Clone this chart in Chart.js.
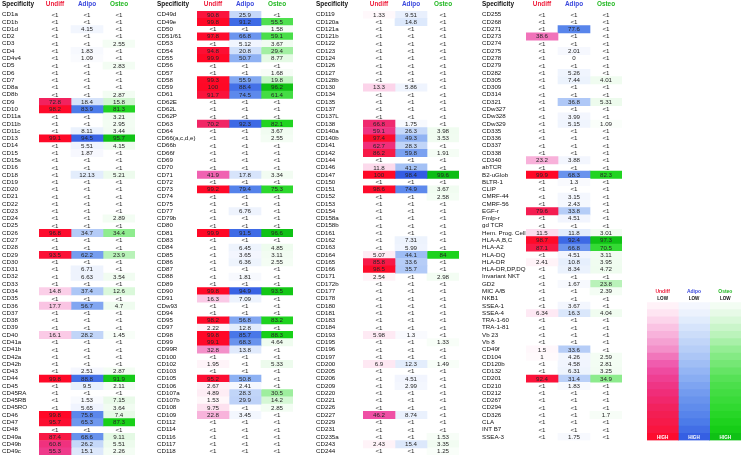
<!DOCTYPE html>
<html>
<head>
<meta charset="utf-8">
<script src="https://cdn.jsdelivr.net/npm/chart.js@4.4.0/dist/chart.umd.min.js"></script>
<style>
  body { margin: 0; background: #fff; width: 743px; height: 457px; overflow: hidden; position: relative; }
  canvas { position: absolute; top: 0; }
</style>
</head>
<body>
<canvas id="g1" width="133" height="457" style="left:2px"></canvas>
<canvas id="g2" width="136" height="457" style="left:157px"></canvas>
<canvas id="g3" width="143" height="457" style="left:316px"></canvas>
<canvas id="g4" width="140" height="457" style="left:482px"></canvas>
<canvas id="key" width="94" height="457" style="left:647px"></canvas>
<script>
const _ = null; // shown as "<1"

const seriesNames = ['Undiff', 'Adipo', 'Osteo'];

// ---- group 1 ----
const g1Names = ['CD1a','CD1b','CD1d','CD2','CD3','CD4','CD4v4','CD5','CD6','CD7','CD8a','CD8b','CD9','CD10','CD11a','CD11b','CD11c','CD13','CD14','CD15','CD15s','CD16','CD18','CD19','CD20','CD21','CD22','CD23','CD24','CD25','CD26','CD27','CD28','CD29','CD30','CD31','CD32','CD33','CD34','CD35','CD36','CD37','CD38','CD39','CD40','CD41a','CD41b','CD42a','CD42b','CD43','CD44','CD45','CD45RA','CD45RB','CD45RO','CD46','CD47','CD48','CD49a','CD49b','CD49c'];
const g1Undiff = [_,_,_,_,_,_,_,_,_,_,_,_, 72.8,98.2,_,_,_,99.1,_,_,_,_,_,_, _,_,_,_,_,_,96.8,_,_,93.5,_,_, _,_,14.8,_,17.7,_,_,_,16.1,_,_,_, _,_,99.8,_,_,_,_,99.8,95.7,_,87.4,60.8, 55.3];
const g1Adipo  = [_,_,4.15,_,_,1.83,1.09,_,_,_,_,_, 18.4,83.9,_,_,8.11,94.5,5.51,1.87,_,_,12.13,_, _,_,_,_,_,_,34.7,_,_,62.2,_,6.71, 6.63,_,37.4,_,56.7,_,_,_,28.2,_,_,_, _,2.51,88.8,9.5,_,1.53,5.65,75.8,65.3,_,68.6,26.2, 15.1];
const g1Osteo  = [_,_,_,_,2.55,_,_,2.83,_,_,_,2.87, 15.8,81.3,3.21,2.95,3.44,95.7,4.15,_,_,_,5.21,_, _,_,_,_,2.89,_,34.4,_,_,23.9,_,_, 3.54,_,12.6,_,4.7,_,_,_,1.45,_,_,_, _,2.87,91.9,2.11,_,7.15,3.64,7.4,87.3,_,9.11,5.51, 2.26];

// ---- group 2 ----
const g2Names = ['CD49d','CD49e','CD50','CD51/61','CD53','CD54','CD55','CD56','CD57','CD58','CD59','CD61','CD62E','CD62L','CD62P','CD63','CD64','CD66(a,c,d,e)','CD66b','CD66f','CD69','CD70','CD71','CD72','CD73','CD74','CD75','CD77','CD79b','CD80','CD81','CD83','CD84','CD85','CD86','CD87','CD88','CD89','CD90','CD91','CDw93','CD94','CD95','CD97','CD98','CD99','CD99R','CD100','CD102','CD103','CD105','CD106','CD107a','CD107b','CD108','CD109','CD112','CD114','CD116','CD117','CD118'];
const g2Undiff = [90.8,99.8,_,97.8,_,94.8,99.9,_,_,99.3,100,91.7, _,_,_,70.2,_,_,_,_,_,_,41.9,_, 99.2,_,_,_,_,_,99.9,_,_,_,_,_, _,_,99.8,16.3,_,_,98.2,2.22,99.8,99.1,32.8,_, 1.95,_,95.2,2.67,4.89,1.53,9.75,22.8,_,_,_,_, _];
const g2Adipo  = [25.9,91.2,_,66.8,5.12,20.8,50.7,_,_,55.9,88.4,74.5, _,_,_,92.3,_,_,_,_,_,_,17.8,_, 79.4,_,_,6.76,_,_,91.5,_,6.45,3.65,6.36,_, 1.81,_,94.9,7.09,_,_,56.8,12.8,85.7,68.3,13.8,_, _,_,50.8,2.41,28.3,29.9,_,3.45,_,_,_,_, _];
const g2Osteo  = [_,55.5,1.58,59.1,3.67,29.4,8.77,_,1.68,19.8,96.2,61.4, _,_,_,82.1,3.67,2.55,_,_,_,_,3.34,_, 75.3,_,_,_,_,_,96.6,_,4.85,3.11,2.55,_, _,_,93.5,_,_,_,83.2,_,88.3,4.64,_,_, 5.33,_,_,_,30.5,14.2,2.85,_,_,_,_,_, _];

// ---- group 3 ----
const g3Names = ['CD119','CD120a','CD121a','CD121b','CD122','CD123','CD124','CD126','CD127','CD128b','CD130','CD134','CD135','CD137','CD137L','CD138','CD140a','CD140b','CD141','CD142','CD144','CD146','CD147','CD150','CD151','CD152','CD153','CD154','CD158a','CD158b','CD161','CD162','CD163','CD164','CD165','CD166','CD171','CD172b','CD177','CD178','CD180','CD181','CD183','CD184','CD193','CD195','CD196','CD197','CD200','CD205','CD206','CD209','CD220','CD221','CD226','CD227','CD229','CD231','CD235a','CD243','CD244'];
const g3Undiff = [1.33,_,_,_,_,_,_,_,_,_,13.3,_, _,_,_,66.8,59.1,97.4,62.7,86.2,_,11.8,100,_, 98.6,_,_,_,_,_,_,_,_,5.07,85.8,98.5, 2.54,_,_,_,_,_,_,_,5.98,_,_,_, 6.9,_,_,_,_,_,_,46.2,_,_,_,2.43, _];
const g3Adipo  = [9.51,14.8,_,_,_,_,_,_,_,_,5.86,_, _,_,_,1.75,26.3,49.3,28.3,59.8,_,41.2,98.4,_, 74.9,_,_,_,_,_,_,7.31,5.99,44.1,33.6,35.7, _,_,_,_,_,_,_,_,1.3,_,_,_, 12.3,_,4.51,2.99,_,_,_,8.74,_,_,_,15.4, _];
const g3Osteo  = [_,_,_,_,_,_,_,_,_,_,_,_, _,_,_,_,3.98,3.53,_,1.91,_,_,99.6,_, 3.67,2.58,_,_,_,_,_,_,_,84,_,_, 2.98,_,_,_,_,_,_,_,_,1.33,_,_, 1.49,_,_,_,_,_,_,_,_,_,1.53,3.35, 1.25];

// ---- group 4 ----
const g4Names = ['CD255','CD268','CD271','CD273','CD274','CD275','CD278','CD279','CD282','CD305','CD309','CD314','CD321','CDw327','CDw328','CDw329','CD335','CD336','CD337','CD338','CD340','abTCR','B2-uGlob','BLTR-1','CLIP','CMRF-44','CMRF-56','EGF-r','Fmlp-r','gd TCR','Hem. Prog. Cell','HLA-A,B,C','HLA-A2','HLA-DQ','HLA-DR','HLA-DR,DP,DQ','Invariant NKT','GD2','MIC A/B','NKB1','SSEA-1','SSEA-4','TRA-1-60','TRA-1-81','Vb 23','Vb 8','CD49f','CD104','CD120b','CD132','CD201','CD210','CD212','CD267','CD294','CD326','CLA','INT B7','SSEA-3'];
const g4Undiff = [_,_,_,38.6,_,_,_,_,_,_,_,_, _,_,_,_,_,_,_,_,23.2,_,99.9,_, _,_,_,79.6,_,_,11.5,98.7,87.1,_,2.41,_, _,_,_,_,_,6.34,_,_,_,_,1.5,1, _,_,92.4,_,_,_,_,_,_,_,_];
const g4Adipo  = [_,_,77.6,_,_,2.01,0,_,5.26,7.44,_,_, 36.8,_,3.99,5.15,_,_,_,_,3.88,_,68.3,1.3, _,3.15,2.43,33.8,4.51,_,11.8,92.4,66.8,4.51,10.8,8.34, _,1.67,_,_,3.67,16.3,_,_,_,_,33.6,4.26, 4.58,6.31,31.4,1.83,_,_,_,_,_,_,1.75];
const g4Osteo  = [_,_,_,_,_,_,_,_,_,4.01,_,_, 5.31,_,_,1.09,_,_,_,_,_,_,82.3,_, _,_,_,_,_,_,3.01,97.3,70.5,3.11,3.95,4.72, _,23.8,2.39,_,_,4.04,_,_,_,_,_,2.59, 2.81,3.25,34.9,_,_,_,_,1.7,_,_,_];

// colour key bands, LOW at top to HIGH at bottom
const keyLevels = [3, 8, 13, 18, 23, 28, 33, 38, 43, 48, 53, 58, 63, 68, 73, 78, 84, 90, 97];

// colour ramps (value, colour)
const ramps = [
  [[0,'#ffffff'],[2,'#fff4f9'],[10,'#fde0ef'],[20,'#f9bce0'],[33,'#f390c9'],[45,'#ef52a8'],[55,'#ef3a8c'],[65,'#f02a74'],[75,'#f22058'],[88,'#f81844'],[100,'#ff0826']],
  [[0,'#ffffff'],[2,'#f6f8fe'],[10,'#e8f0fd'],[20,'#d2e1fa'],[35,'#b3cbf7'],[50,'#8fb2f3'],[66,'#6d96ee'],[84,'#4c7be9'],[100,'#3058e2']],
  [[0,'#ffffff'],[2,'#f5fdf5'],[10,'#e2f9e2'],[24,'#b8f2b8'],[34,'#90ec90'],[55,'#50e050'],[75,'#2cd82c'],[88,'#18d018'],[100,'#0cbc14']]
];
const headColors = ['#ee1c3a', '#3a48dd', '#22b822'];
const FONT = '"Liberation Sans", Arial, sans-serif';
const ROW_H = 7.28, TOP = 11;

function hex(c) { return [1, 3, 5].map(i => parseInt(c.substr(i, 2), 16)); }

function cellColor(ramp, v) {
  if (v === null || v <= 0) return 'rgba(255,255,255,0)';
  for (let i = 1; i < ramp.length; i++) {
    if (v <= ramp[i][0]) {
      const t = (v - ramp[i-1][0]) / (ramp[i][0] - ramp[i-1][0]);
      const a = hex(ramp[i-1][1]), b = hex(ramp[i][1]);
      return 'rgb(' + a.map((x, j) => Math.round(x + (b[j] - x) * t)).join(',') + ')';
    }
  }
  return ramp[ramp.length - 1][1];
}

// numbers inside the cells
const cellText = {
  id: 'cellText',
  afterDatasetsDraw(chart) {
    const ctx = chart.ctx;
    ctx.save();
    ctx.font = '6.2px ' + FONT;
    ctx.fillStyle = '#262626';
    ctx.textAlign = 'center';
    ctx.textBaseline = 'middle';
    chart.data.datasets.forEach((ds, i) => {
      chart.getDatasetMeta(i).data.forEach((bar, j) => {
        const v = ds.values[j];
        ctx.fillText(v === null ? '<1' : String(v), (bar.x + bar.base) / 2, bar.y + 0.3);
      });
    });
    ctx.restore();
  }
};

// column headings
const headings = {
  id: 'headings',
  afterDraw(chart, args, o) {
    const ctx = chart.ctx, x = chart.scales.x;
    ctx.save();
    ctx.textBaseline = 'middle';
    if (o.key) {
      const top = chart.chartArea.top;
      seriesNames.forEach((s, k) => {
        const cx = x.getPixelForValue(k + 0.5);
        ctx.textAlign = 'center';
        ctx.font = 'bold 5px ' + FONT;
        ctx.fillStyle = headColors[k];
        ctx.fillText(s, cx, top - 11);
        ctx.font = 'bold 4.6px ' + FONT;
        ctx.fillStyle = '#111';
        ctx.fillText('LOW', cx, top - 3.8);
        ctx.fillStyle = '#fff';
        ctx.fillText('HIGH', cx, chart.chartArea.bottom - ROW_H / 2 + 0.5);
      });
    } else {
      ctx.font = 'bold 6.4px ' + FONT;
      ctx.fillStyle = '#111';
      ctx.textAlign = 'left';
      ctx.fillText('Specificity', 0, 4.5);
      seriesNames.forEach((s, k) => {
        ctx.textAlign = 'center';
        ctx.fillStyle = headColors[k];
        ctx.fillText(s, x.getPixelForValue(k + 0.5), 4.5);
      });
    }
    ctx.restore();
  }
};

function heatChart(id, labelW, names, cols, key) {
  const canvas = document.getElementById(id);
  return new Chart(canvas, {
    type: 'bar',
    data: {
      labels: names,
      datasets: cols.map((vals, k) => ({
        label: seriesNames[k],
        values: vals,
        data: vals.map(() => [k, k + 1]),
        backgroundColor: vals.map(v => cellColor(ramps[k], v)),
        borderWidth: 0,
        barPercentage: 1,
        categoryPercentage: 1,
        grouped: false
      }))
    },
    options: {
      responsive: false,
      animation: false,
      indexAxis: 'y',
      layout: { padding: { top: key ? TOP + 40 * ROW_H : TOP, bottom: canvas.height - (key ? TOP + 40 * ROW_H : TOP) - names.length * ROW_H, left: 0, right: 0 } },
      plugins: { legend: { display: false }, tooltip: { enabled: false }, headings: { key: key } },
      scales: {
        x: { type: 'linear', min: 0, max: 3, display: false },
        y: {
          type: 'category',
          display: !key,
          grid: { display: false },
          border: { display: false },
          ticks: { autoSkip: false, padding: 0, crossAlign: 'far', color: '#111', font: { family: FONT, size: 6.2 } },
          afterFit: s => { s.width = labelW; s.paddingTop = 0; s.paddingBottom = 0; }
        }
      }
    },
    plugins: key ? [headings] : [cellText, headings]
  });
}

heatChart('g1', 37, g1Names, [g1Undiff, g1Adipo, g1Osteo], false);
heatChart('g2', 40, g2Names, [g2Undiff, g2Adipo, g2Osteo], false);
heatChart('g3', 47, g3Names, [g3Undiff, g3Adipo, g3Osteo], false);
heatChart('g4', 44, g4Names, [g4Undiff, g4Adipo, g4Osteo], false);
heatChart('key', 0, keyLevels, [keyLevels, keyLevels, keyLevels], true);
</script>
</body>
</html>
